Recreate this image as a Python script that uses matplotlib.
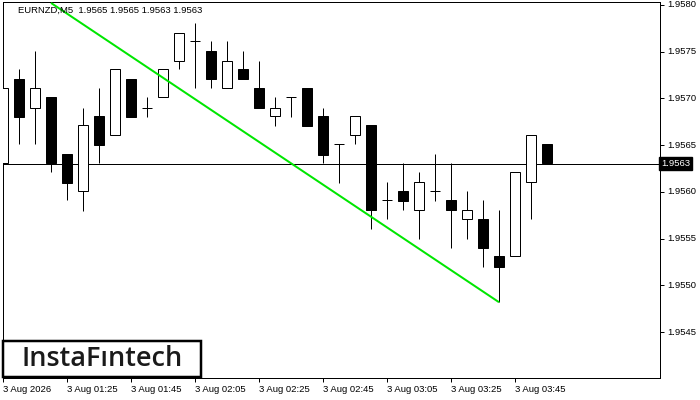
import matplotlib
matplotlib.use("Agg")
import matplotlib.pyplot as plt
from matplotlib.patches import Rectangle

# ================================ DATA ================================
SYMBOL_TITLE = "EURNZD,M5  1.9565 1.9565 1.9563 1.9563"

opens = [1.95631, 1.95721, 1.95690, 1.95701, 1.95640, 1.95601, 1.95681, 1.95661,
         1.95721, 1.95690, 1.95701, 1.95740, 1.95761, 1.95751, 1.95711, 1.95731,
         1.95711, 1.95681, 1.95701, 1.95711, 1.95681, 1.95651, 1.95661, 1.95671,
         1.95591, 1.95601, 1.95581, 1.95601, 1.95591, 1.95571, 1.95571, 1.95531,
         1.95531, 1.95611, 1.95651]
highs = [1.95721, 1.95731, 1.95751, 1.95701, 1.95640, 1.95690, 1.95711, 1.95731,
         1.95721, 1.95701, 1.95731, 1.95770, 1.95781, 1.95761, 1.95761, 1.95751,
         1.95740, 1.95701, 1.95701, 1.95711, 1.95690, 1.95651, 1.95681, 1.95671,
         1.95611, 1.95631, 1.95621, 1.95640, 1.95631, 1.95601, 1.95591, 1.95581,
         1.95621, 1.95661, 1.95651]
lows = [1.95621, 1.95651, 1.95651, 1.95621, 1.95591, 1.95580, 1.95631, 1.95661,
        1.95680, 1.95680, 1.95701, 1.95731, 1.95711, 1.95711, 1.95711, 1.95721,
        1.95690, 1.95670, 1.95680, 1.95670, 1.95631, 1.95610, 1.95651, 1.95560,
        1.95571, 1.95581, 1.95550, 1.95590, 1.95540, 1.95550, 1.95520, 1.95482,
        1.95531, 1.95571, 1.95631]
closes = [1.95711, 1.95680, 1.95711, 1.95631, 1.95610, 1.95671, 1.95650, 1.95731,
          1.95680, 1.95690, 1.95731, 1.95770, 1.95761, 1.95721, 1.95740, 1.95721,
          1.95690, 1.95690, 1.95701, 1.95670, 1.95639, 1.95651, 1.95681, 1.95581,
          1.95591, 1.95590, 1.95611, 1.95601, 1.95581, 1.95581, 1.95540, 1.95520,
          1.95621, 1.95661, 1.95631]

current_price = 1.9563
current_label = "1.9563"

# pattern line (bar index, price)
line_x = [3, 31]
line_y = [1.95802, 1.95482]

x_tick_pos = [0, 4, 8, 12, 16, 20, 24, 28, 32]
x_tick_labels = ["3 Aug 2026", "3 Aug 01:25", "3 Aug 01:45", "3 Aug 02:05",
                 "3 Aug 02:25", "3 Aug 02:45", "3 Aug 03:05", "3 Aug 03:25",
                 "3 Aug 03:45"]
y_ticks = [1.9545, 1.9550, 1.9555, 1.9560, 1.9565, 1.9570, 1.9575, 1.9580]

FONT = "Liberation Sans"
PX = 0.72  # one pixel in points at dpi 100

# ============================== PLOT ==============================
fig = plt.figure(figsize=(7, 4), dpi=100)
fig.patch.set_facecolor("white")
ax = fig.add_axes([3 / 700, 22 / 400, 657 / 700, 376 / 400])

ax.set_xlim(0, 41.06)
ax.set_ylim(1.95401, 1.95803)

idx = list(range(len(opens)))
body_w = 0.62

# wicks
ax.vlines(idx, lows, highs, color="black", linewidth=PX, zorder=2)

# bodies
for i in idx:
    o, c = opens[i], closes[i]
    if abs(c - o) < 1e-6:
        ax.hlines(o, i - body_w / 2, i + body_w / 2, color="black", linewidth=PX, zorder=3)
    else:
        face = "white" if c > o else "black"
        ax.bar(i, abs(c - o), bottom=min(o, c), width=body_w, facecolor=face,
               edgecolor="black", linewidth=PX, zorder=3)

# current price line
ax.axhline(current_price, color="black", linewidth=PX, zorder=1)

# pattern line
ax.plot(line_x, line_y, color="#00e600", linewidth=2 * PX, zorder=4,
        solid_capstyle="butt")

# axes styling
for side in ["top", "bottom", "left", "right"]:
    ax.spines[side].set_linewidth(PX)
    ax.spines[side].set_color("black")

ax.yaxis.tick_right()
ax.set_yticks(y_ticks)
ax.set_yticklabels([f"{v:.4f}" for v in y_ticks])
ax.set_xticks(x_tick_pos)
ax.set_xticklabels(x_tick_labels)
ax.tick_params(axis="both", direction="out", length=3, width=PX, colors="black",
               labelsize=6.8, pad=2)
for lab in ax.get_xticklabels():
    lab.set_horizontalalignment("left")
    lab.set_fontfamily(FONT)
for lab in ax.get_yticklabels():
    lab.set_fontfamily(FONT)
    lab.set_verticalalignment("center")

# current price tag
ax.text(1.0015, current_price, current_label, transform=ax.get_yaxis_transform(),
        ha="left", va="center", color="white", fontsize=6.8, family=FONT,
        bbox=dict(boxstyle="square,pad=0.2", facecolor="black", edgecolor="black"),
        clip_on=False, zorder=10)

# title
fig.text(18 / 700, 1 - 10 / 400, SYMBOL_TITLE, ha="left", va="center",
         fontsize=6.8, family=FONT, color="black")

# logo
fig.add_artist(Rectangle((3 / 700, 23 / 400), 198 / 700, 36 / 400,
                         transform=fig.transFigure, facecolor="white",
                         edgecolor="black", linewidth=2.5 * PX, zorder=20))
fig.text(102 / 700, 41 / 400, "InstaF\u0131ntech", ha="center", va="center",
         fontsize=19.5, family="Open Sans", weight="semibold", color="#1a1a1a",
         zorder=21)

fig.savefig("out.png", dpi=100)
